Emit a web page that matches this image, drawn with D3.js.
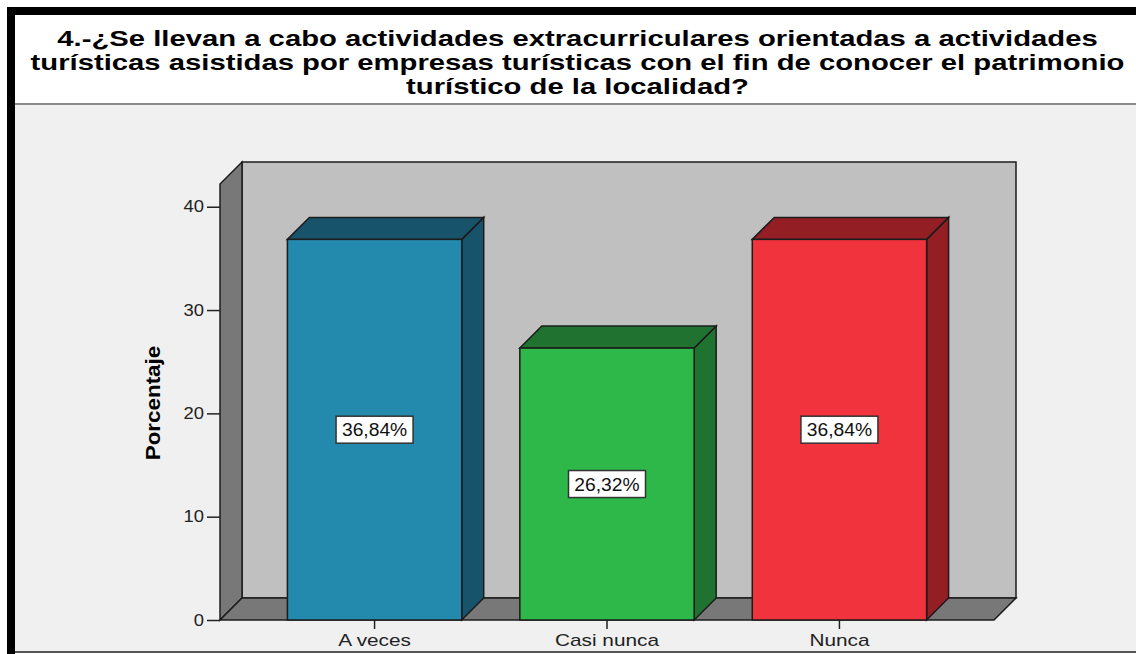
<!DOCTYPE html>
<html><head><meta charset="utf-8">
<script src="https://cdn.jsdelivr.net/npm/d3@7/dist/d3.min.js"></script>
<style>body{margin:0;background:#fff}svg{display:block}</style>
</head><body>
<svg id="c" width="1136" height="654"></svg>
<script>
const categories = ["A veces", "Casi nunca", "Nunca"];
const values = [36.84, 26.32, 36.84];
const valueLabels = ["36,84%", "26,32%", "36,84%"];
const yTicks = [0, 10, 20, 30, 40];
const frontColors = ["#2389ad", "#2fb84a", "#f0333c"];
const darkColors = ["#17536a", "#1f722f", "#931e24"];
const titleLines = [
  "4.-¿Se llevan a cabo actividades extracurriculares orientadas a actividades",
  "turísticas asistidas por empresas turísticas con el fin de conocer el patrimonio",
  "turístico de la localidad?"
];
const yTitle = "Porcentaje";

const svg = d3.select("#c");
const F = "'Liberation Sans', Arial, sans-serif";

// frame
svg.append("rect").attr("x",15).attr("y",15).attr("width",1121).attr("height",89).attr("fill","#fff");
svg.append("rect").attr("x",15).attr("y",104).attr("width",1121).attr("height",547).attr("fill","#f0f0f0");
svg.append("line").attr("x1",15).attr("x2",1136).attr("y1",104).attr("y2",104).attr("stroke","#8a8a8a").attr("stroke-width",2);
svg.append("rect").attr("x",7).attr("y",7).attr("width",1129).attr("height",8).attr("fill","#000");
svg.append("rect").attr("x",7).attr("y",7).attr("width",8).attr("height",647).attr("fill","#000");
svg.append("line").attr("x1",15).attr("x2",1136).attr("y1",652).attr("y2",652).attr("stroke","#555").attr("stroke-width",2);

// title
svg.append("g").selectAll("text").data(titleLines).join("text")
  .attr("transform",(d,i)=>`translate(577.5,${46+i*23.8}) scale(1.33,1)`)
  .attr("text-anchor","middle").attr("font-family",F).attr("font-weight","bold")
  .attr("font-size",22).attr("fill","#000").text(d=>d);

// scales
const d = 22;
const x0 = 220, x1 = 994;
const y = d3.scaleLinear().domain([0, 42.2]).range([620, 184]);
const x = d3.scaleBand().domain(categories).range([x0, x1]).paddingInner(0.25).paddingOuter(0.29);
const ymax = y.domain()[1];

const pts = a => a.map(p=>p.join(",")).join(" ");
const stroke = "#1c1c1c";
const walls = svg.append("g");
walls.append("rect").attr("x",x0+d).attr("y",y(ymax)-d).attr("width",x1-x0).attr("height",y(0)-y(ymax))
  .attr("fill","#c0c0c0").attr("stroke",stroke).attr("stroke-width",1.5);
walls.append("polygon").attr("points",pts([[x0,y(0)],[x0,y(ymax)],[x0+d,y(ymax)-d],[x0+d,y(0)-d]]))
  .attr("fill","#787878").attr("stroke",stroke).attr("stroke-width",1.5);
walls.append("polygon").attr("points",pts([[x0,y(0)],[x1,y(0)],[x1+d,y(0)-d],[x0+d,y(0)-d]]))
  .attr("fill","#787878").attr("stroke",stroke).attr("stroke-width",1.5);

// y axis
const yAxis = d3.axisLeft(y).tickValues(yTicks).tickSize(13).tickPadding(3).tickFormat(d3.format("d"));
const ga = svg.append("g").attr("transform",`translate(${x0},0)`).call(yAxis);
ga.select(".domain").remove();
ga.selectAll("line").attr("stroke","#222").attr("stroke-width",1.5);
ga.selectAll("text").attr("font-family",F).attr("font-size",16).attr("fill","#222")
  .attr("x",-16/1.15).attr("transform","scale(1.15,1)");

// x axis
const xAxis = d3.axisBottom(x).tickSize(9).tickPadding(6);
const gx = svg.append("g").attr("transform",`translate(0,${y(0)})`).call(xAxis);
gx.select(".domain").remove();
gx.selectAll("line").attr("stroke","#222").attr("stroke-width",1.5);
gx.selectAll("text").attr("font-family",F).attr("font-size",16).attr("fill","#222")
  .attr("transform","scale(1.3,1)");

// bars
const bars = svg.append("g").selectAll("g").data(categories).join("g");
bars.each(function(c,i){
  const g = d3.select(this);
  const bx0 = x(c), bx1 = x(c)+x.bandwidth(), yt = y(values[i]), yb = y(0);
  g.append("polygon").attr("points",pts([[bx1,yt],[bx1+d,yt-d],[bx1+d,yb-d],[bx1,yb]]))
    .attr("fill",darkColors[i]).attr("stroke",stroke).attr("stroke-width",1.5);
  g.append("polygon").attr("points",pts([[bx0,yt],[bx0+d,yt-d],[bx1+d,yt-d],[bx1,yt]]))
    .attr("fill",darkColors[i]).attr("stroke",stroke).attr("stroke-width",1.5);
  g.append("rect").attr("x",bx0).attr("y",yt).attr("width",bx1-bx0).attr("height",yb-yt)
    .attr("fill",frontColors[i]).attr("stroke",stroke).attr("stroke-width",1.5);
  const cx = (bx0+bx1)/2, cy = y(values[i]/2);
  g.append("rect").attr("x",cx-38.5).attr("y",cy-13.5).attr("width",77).attr("height",27)
    .attr("fill","#fff").attr("stroke","#333").attr("stroke-width",1.5);
  g.append("text").attr("transform",`translate(${cx},${cy+6.5}) scale(1.07,1)`).attr("text-anchor","middle")
    .attr("font-family",F).attr("font-size",18).attr("fill","#111").text(valueLabels[i]);
});

// y title
svg.append("text").attr("transform","translate(160,403) rotate(-90) scale(1.12,1)").attr("text-anchor","middle")
  .attr("font-family",F).attr("font-weight","bold").attr("font-size",20).attr("fill","#000").text(yTitle);
</script>
</body></html>
